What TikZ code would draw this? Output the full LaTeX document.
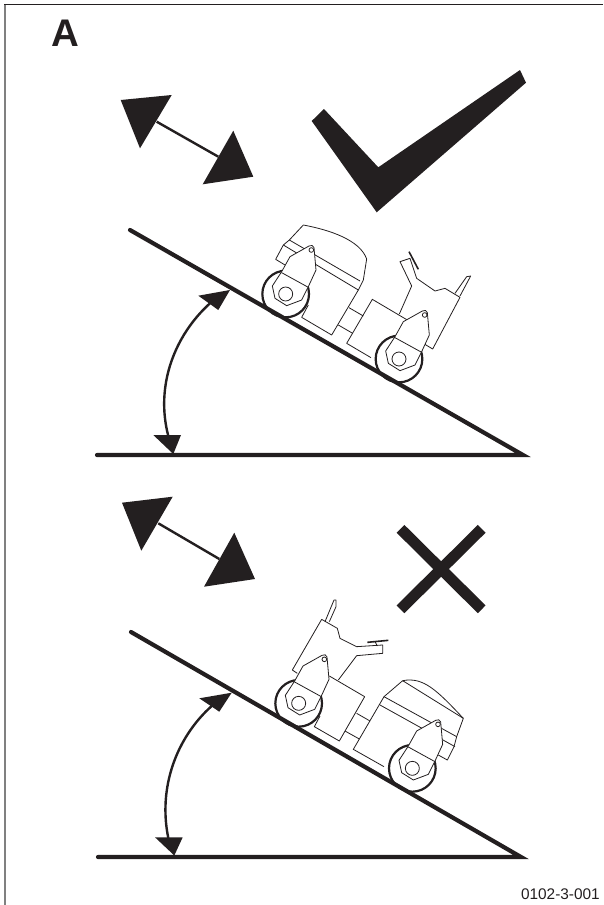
\documentclass[tikz,border=0pt]{standalone}
\usepackage{fontspec}
\setmainfont{Liberation Sans}
\definecolor{inkblack}{HTML}{231F20}
\tikzset{
  outline/.style={inkblack, line width=0.8pt, line join=round},
  slope/.style={inkblack, line width=4.2pt, line cap=round, line join=miter},
  solidmark/.style={fill=inkblack, draw=none},
  swingline/.style={inkblack, line width=2.4pt}
}
\newcommand{\rollerunit}[2]{
  \begin{scope}[shift={(#1,#2)}]
    \draw[inkblack, line width=2.2pt, fill=white] (0,0) circle (70);
    \draw[outline, fill=white] (85,-139) -- (91,-72) -- (68,-22) -- (48,18) -- (3,35) -- (-32,13) -- (-40,-24) -- (-12,-67) -- (13,-112) -- (70,-144) .. controls (76,-148) and (84,-146) .. cycle;
    \draw[outline] (-12,-64) -- (68,-20);
    \draw[outline] (0,0) circle (21);
    \draw[outline, fill=white] (77,-132) circle (7);
  \end{scope}
}
\begin{document}
\begin{tikzpicture}[x=1pt, y=-1pt]
  \useasboundingbox (0,0) rectangle (603,905);
  % 边框
  \draw[gray, line width=1.6pt] (5,905) -- (5,4);
  \draw[inkblack, line width=1pt] (4.2,4.3) -- (603,4.3);
  % 标题与编号
  \node[inkblack, anchor=base west, inner sep=0pt] (tagA) at (51.5,46) {\fontsize{38.5}{38.5}\selectfont\bfseries A};
  \node[inkblack, anchor=base east, inner sep=0pt] (partno) at (600,899) {\fontsize{15.4}{16}\selectfont 0102-3-001};

  % 上方双向箭头
  \fill[solidmark] (120.7,100) -- (171.7,95) -- (140,148.3) -- cycle;
  \fill[solidmark] (233.3,130.7) -- (253.3,176.7) -- (202.7,184.3) -- cycle;
  \draw[swingline] (156.7,121.7) -- (218.3,156.7);
  % 对号
  \fill[solidmark] (311.7,121) -- (324,109) -- (378.3,167.3) -- (520,70) -- (526,82.7) -- (376.7,212.3) -- cycle;

  % 上方机器
  \begin{scope}[shift={(240,210)}, scale=1/3]
    \draw[outline] (190,45) .. controls (270,60) and (360,90) .. (380,147) -- (370,210) -- (355,240) -- (275,375) -- (185,322) -- (205,285);
    \draw[outline] (190,45) -- (148,90) -- (130,105) -- (107,148) -- (135,165);
    \draw[outline] (148,90) -- (360,213);
    \draw[outline] (130,105) -- (355,240);
    \draw[outline] (327,293) -- (370,318);
    \draw[outline] (295,345) -- (338,370);
    \draw[outline] (502,330) -- (397,268) -- (320,400) -- (393,443);
    \draw[outline] (478,312) -- (515,228) -- (480,155) -- (510,145) -- (530,205) -- (585,243) -- (615,235) -- (660,262) -- (578,417) -- (553,402);
    \draw[outline] (645,250) -- (680,200) -- (692,198) -- (660,258);
    \draw[inkblack, line width=1.6pt] (507,125) -- (535,178);
    \rollerunit{137}{252}
    \rollerunit{477}{447}
  \end{scope}

  % 上方斜面
  \draw[slope] (130,230) -- (523,455) -- (97,455);
  % 上方角度
  \draw[swingline] (210,303.3) .. controls (175,335) and (155,385) .. (168.3,436);
  \fill[solidmark] (230,290) -- (198.3,295.7) -- (218.3,310) -- cycle;
  \fill[solidmark] (173.3,454) -- (153.3,435) -- (181,435) -- cycle;

  % 下方双向箭头
  \fill[solidmark] (122,502.7) -- (172.7,496.7) -- (141.3,550.7) -- cycle;
  \fill[solidmark] (234.3,532.7) -- (255,579) -- (204,586.7) -- cycle;
  \draw[swingline] (158.3,523.3) -- (219.3,559);
  % 叉号
  \draw[inkblack, line width=11pt] (400.5,528.8) -- (481.7,609.3);
  \draw[inkblack, line width=11pt] (481.7,528.8) -- (400.5,609.3);

  % 下方机器
  \begin{scope}[shift={(260,590)}, scale=1/3]
    \draw[outline] (112,250) -- (97,240) -- (185,88) -- (232,115) -- (240,145) -- (290,170) -- (368,165) -- (368,190) -- (290,197) -- (235,270);
    \draw[outline] (195,95) -- (222,30) -- (228,30) -- (228,50) -- (208,95);
    \draw[inkblack, line width=1.6pt] (322,157) -- (385,151);
    \draw[outline] (345,155) -- (352,168);
    \draw[outline] (208,258) -- (314,320) -- (238,453) -- (163,410) -- (180,378);
    \draw[outline] (290,370) -- (330,393);
    \draw[outline] (255,423) -- (298,447);
    \draw[outline] (372,530) -- (280,478) -- (372,320) -- (428,272) -- (610,385) -- (590,440) -- (582,470) -- (562,510) -- (535,495);
    \draw[outline] (428,272) .. controls (490,260) and (530,300) .. (610,385);
    \draw[outline] (372,320) -- (590,440);
    \draw[outline] (360,345) -- (585,470);
    \rollerunit{116}{340}
    \rollerunit{457}{535}
  \end{scope}

  % 下方斜面
  \draw[slope] (131,632) -- (521,857) -- (98,857);
  % 下方角度
  \draw[swingline] (211.7,706) .. controls (176,738) and (158,788) .. (168.3,838);
  \fill[solidmark] (231.7,692.7) -- (199.3,698.3) -- (219.3,711.7) -- cycle;
  \fill[solidmark] (174.3,855.5) -- (155,837.3) -- (182.7,837.3) -- cycle;
\end{tikzpicture}
\end{document}
